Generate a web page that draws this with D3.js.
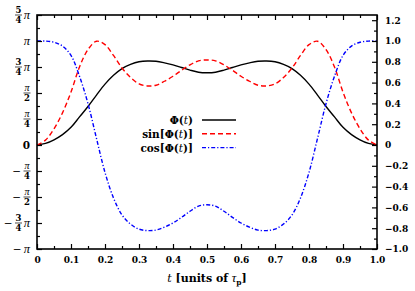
<!DOCTYPE html>
<html>
<head>
<meta charset="utf-8">
<script src="https://cdn.jsdelivr.net/npm/d3@7"></script>
<style>
	body { margin: 0; background: #fff; }
	svg { display: block; }
	text { font-family: "DejaVu Serif", serif; fill: #000; }
	.pi { font-family: "Liberation Serif", serif; font-style: italic; }
</style>
</head>
<body>
<svg id="chart" width="415" height="291"></svg>
<script>
'use strict';

// t in units of tau_p
const tVals = [0, 0.025, 0.05, 0.075, 0.1, 0.125, 0.15, 0.175, 0.2, 0.225, 0.25, 0.275, 0.3, 0.325, 0.35, 0.375, 0.4, 0.425, 0.45, 0.475, 0.5,
	0.525, 0.55, 0.575, 0.6, 0.625, 0.65, 0.675, 0.7, 0.725, 0.75, 0.775, 0.8, 0.825, 0.85, 0.875, 0.9, 0.925, 0.95, 0.975, 1.0];

// Phi(t) in units of pi
const phiVals = [0, 0.015, 0.05, 0.10, 0.17, 0.27, 0.37, 0.48, 0.585, 0.67, 0.735, 0.775, 0.80, 0.808, 0.805, 0.79, 0.77, 0.745, 0.72, 0.70, 0.695,
	0.70, 0.72, 0.745, 0.77, 0.79, 0.805, 0.808, 0.80, 0.775, 0.735, 0.67, 0.585, 0.48, 0.37, 0.27, 0.17, 0.10, 0.05, 0.015, 0];

const sinVals = [0, 0.047, 0.156, 0.309, 0.509, 0.750, 0.918, 0.998, 0.965, 0.861, 0.740, 0.649, 0.588, 0.568, 0.575, 0.613, 0.661, 0.718, 0.771, 0.809, 0.818,
	0.809, 0.771, 0.718, 0.661, 0.613, 0.575, 0.568, 0.588, 0.649, 0.740, 0.861, 0.965, 0.998, 0.918, 0.750, 0.509, 0.309, 0.156, 0.047, 0];

const cosVals = [1, 0.999, 0.988, 0.951, 0.861, 0.661, 0.397, 0.063, -0.264, -0.509, -0.673, -0.760, -0.809, -0.823, -0.818, -0.790, -0.750, -0.696, -0.637, -0.588, -0.575,
	-0.588, -0.637, -0.696, -0.750, -0.790, -0.818, -0.823, -0.809, -0.760, -0.673, -0.509, -0.264, 0.063, 0.397, 0.661, 0.861, 0.951, 0.988, 0.999, 1];

const xTicks = [0, 0.1, 0.2, 0.3, 0.4, 0.5, 0.6, 0.7, 0.8, 0.9, 1.0];
const xMinor = [0.05, 0.15, 0.25, 0.35, 0.45, 0.55, 0.65, 0.75, 0.85, 0.95];
const piTicks = [-1, -0.75, -0.5, -0.25, 0, 0.25, 0.5, 0.75, 1, 1.25];
const piLabels = ["−π", "−3/4π", "−π/2", "−π/4", "0", "π/4", "π/2", "3/4π", "π", "5/4π"];
const piMinor = [-0.875, -0.625, -0.375, -0.125, 0.125, 0.375, 0.625, 0.875, 1.125];
const rightTicks = [-1.0, -0.8, -0.6, -0.4, -0.2, 0, 0.2, 0.4, 0.6, 0.8, 1.0, 1.2];
const rightMinor = [-0.9, -0.7, -0.5, -0.3, -0.1, 0.1, 0.3, 0.5, 0.7, 0.9, 1.1];

const series = [
	{ name: "phi", values: phiVals, color: "#000000", dash: null },
	{ name: "sin", values: sinVals, color: "#ff0000", dash: "5,3" },
	{ name: "cos", values: cosVals, color: "#0000ff", dash: "4,2,1.2,2" }
];

const svg = d3.select("#chart");
const x = d3.scaleLinear().domain([0, 1]).range([37, 377]);
const y = d3.scaleLinear().domain([-1, 1.25]).range([249, 15]);

// curves
const line = d3.line()
	.x((d, i) => x(tVals[i]))
	.y(d => y(d))
	.curve(d3.curveCatmullRom.alpha(0.5));

svg.append("g")
	.selectAll("path")
	.data(series)
	.enter().append("path")
	.attr("d", d => line(d.values))
	.attr("fill", "none")
	.attr("stroke", d => d.color)
	.attr("stroke-width", 1.4)
	.attr("stroke-dasharray", d => d.dash);

// axes, ticks pointing inward
function styleAxis(g) {
	g.selectAll(".domain").remove();
	g.selectAll(".tick line").attr("stroke", "#000").attr("stroke-width", 1.2);
}

const bottom = svg.append("g").attr("transform", "translate(0,249)")
	.call(d3.axisBottom(x).tickValues(xTicks).tickSize(-5).tickPadding(8)
		.tickFormat(d => d === 0 ? "0" : d3.format(".1f")(d)))
	.call(styleAxis);
bottom.selectAll("text")
	.attr("font-family", "DejaVu Serif").attr("font-weight", "bold").attr("font-size", 9);

svg.append("g").attr("transform", "translate(0,249)")
	.call(d3.axisBottom(x).tickValues(xMinor).tickSize(-3).tickFormat(""))
	.call(styleAxis);
svg.append("g").attr("transform", "translate(0,15)")
	.call(d3.axisTop(x).tickValues(xTicks).tickSize(-5).tickFormat(""))
	.call(styleAxis);
svg.append("g").attr("transform", "translate(0,15)")
	.call(d3.axisTop(x).tickValues(xMinor).tickSize(-3).tickFormat(""))
	.call(styleAxis);

svg.append("g").attr("transform", "translate(37,0)")
	.call(d3.axisLeft(y).tickValues(piTicks).tickSize(-5).tickFormat(""))
	.call(styleAxis);
svg.append("g").attr("transform", "translate(37,0)")
	.call(d3.axisLeft(y).tickValues(piMinor).tickSize(-3).tickFormat(""))
	.call(styleAxis);

const right = svg.append("g").attr("transform", "translate(377,0)")
	.call(d3.axisRight(y).tickValues(rightTicks).tickSize(-5).tickPadding(8)
		.tickFormat(d => d === 0 ? "0" : d3.format(".1f")(d)))
	.call(styleAxis);
right.selectAll("text")
	.attr("font-family", "DejaVu Serif").attr("font-weight", "bold").attr("font-size", 9);
svg.append("g").attr("transform", "translate(377,0)")
	.call(d3.axisRight(y).tickValues(rightMinor).tickSize(-3).tickFormat(""))
	.call(styleAxis);

// frame
svg.append("rect")
	.attr("x", x(0)).attr("y", y(1.25))
	.attr("width", x(1) - x(0)).attr("height", y(-1) - y(1.25))
	.attr("fill", "none").attr("stroke", "#000").attr("stroke-width", 1.6);

// left labels in fractions of pi, laid out right to left
const leftLabels = svg.append("g");
piTicks.forEach((v, i) => {
	let s = piLabels[i];
	const yy = y(v);
	let xr = 30;
	const neg = s.startsWith("−");
	if (neg) s = s.slice(1);
	if (s === "0") {
		leftLabels.append("text").attr("x", xr).attr("y", yy + 4)
			.attr("text-anchor", "end").attr("font-size", 10.5).attr("font-weight", "bold").text("0");
		return;
	}
	let frac = null;
	let trailingPi = false;
	if (s.includes("/")) {
		const parts = s.split("/");
		let den = parts[1];
		if (den.endsWith("π")) {
			trailingPi = true;
			den = den.slice(0, -1);
		}
		frac = { num: parts[0], den: den };
	} else {
		trailingPi = true;
	}
	if (trailingPi) {
		leftLabels.append("text").attr("class", "pi").attr("x", xr).attr("y", yy + 3.5)
			.attr("text-anchor", "end").attr("font-size", 12.5).text("π");
		xr -= frac ? 8.5 : 7.5;
	}
	if (frac) {
		const cx = xr - 3;
		const isPi = frac.num === "π";
		leftLabels.append("text").attr("class", isPi ? "pi" : null)
			.attr("x", cx).attr("y", yy - 2)
			.attr("text-anchor", "middle").attr("font-size", isPi ? 10 : 8.5)
			.attr("font-weight", isPi ? null : "bold")
			.text(frac.num);
		leftLabels.append("line")
			.attr("x1", cx - 3.5).attr("x2", cx + 3.5).attr("y1", yy).attr("y2", yy)
			.attr("stroke", "#000").attr("stroke-width", 0.7);
		leftLabels.append("text").attr("x", cx).attr("y", yy + 8)
			.attr("text-anchor", "middle").attr("font-size", 8.5).attr("font-weight", "bold")
			.text(frac.den);
		xr -= 8;
	}
	if (neg) {
		leftLabels.append("text").attr("x", xr - 1).attr("y", yy + 3.5)
			.attr("text-anchor", "end").attr("font-size", 10.5).text("−");
	}
});

// axis title
const title = svg.append("text")
	.attr("x", 207).attr("y", 282)
	.attr("text-anchor", "middle")
	.attr("font-size", 11);
title.append("tspan").attr("font-style", "italic").text("t");
title.append("tspan").attr("font-weight", "bold").text(" [units of ");
title.append("tspan").attr("class", "pi").attr("font-size", 12.5).text("τ");
title.append("tspan").attr("font-weight", "bold").attr("font-size", 7.5).attr("dy", 2.5).text("p");
title.append("tspan").attr("font-weight", "bold").attr("dy", -2.5).text("]");

// legend
const legendRows = [
	{ parts: [["", "Φ"], ["", "("], ["i", "t"], ["", ")"]], s: series[0] },
	{ parts: [["", "sin[Φ("], ["i", "t"], ["", ")]"]], s: series[1] },
	{ parts: [["", "cos[Φ("], ["i", "t"], ["", ")]"]], s: series[2] }
];
const legend = svg.append("g");
legendRows.forEach((row, i) => {
	const ly = 120 + i * 13.8;
	const txt = legend.append("text")
		.attr("x", 193).attr("y", ly + 4)
		.attr("text-anchor", "end")
		.attr("font-size", 10.5);
	row.parts.forEach(p => {
		txt.append("tspan")
			.attr("font-style", p[0] === "i" ? "italic" : null)
			.attr("font-weight", p[0] === "i" ? null : "bold")
			.text(p[1]);
	});
	legend.append("line")
		.attr("x1", 202).attr("x2", 236).attr("y1", ly).attr("y2", ly)
		.attr("stroke", row.s.color)
		.attr("stroke-width", 1.4)
		.attr("stroke-dasharray", row.s.dash);
});
</script>
</body>
</html>
